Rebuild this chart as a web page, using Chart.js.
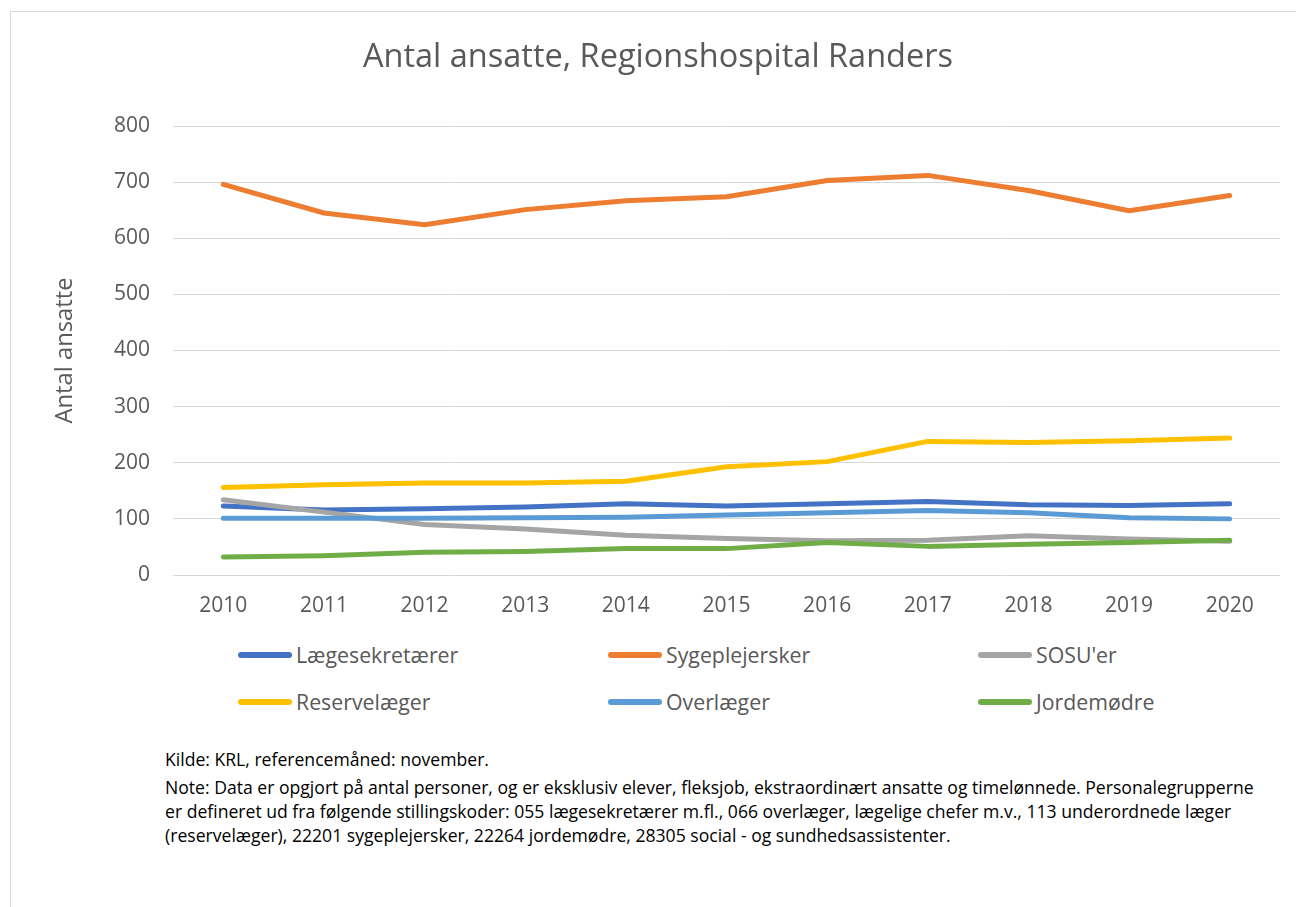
<!DOCTYPE html>
<html>
<head>
<meta charset="utf-8">
<script src="https://cdn.jsdelivr.net/npm/chart.js@4"></script>
<style>
  body { margin: 0; background: #fff; font-family: "Open Sans", sans-serif; }
  #frame { position: absolute; left: 10px; top: 11px; width: 1296px; height: 900px;
           border-left: 1px solid #d9d9d9; border-top: 1px solid #d9d9d9; }
  #wrap { position: absolute; left: 10px; top: 11px; width: 1296px; height: 620px; }
  #legend { position: absolute; left: 0; top: 0; }
  .item { position: absolute; display: flex; align-items: center; font-size: 21.3px; color: #595959; white-space: nowrap; }
  .swatch { width: 54px; height: 6px; border-radius: 3px; margin-right: 4px; }
  #notes { position: absolute; left: 165px; top: 747px; font-size: 17.6px; line-height: 24px; color: #000; white-space: nowrap; }
  #notes .src { margin-bottom: 4px; }
</style>
</head>
<body>
<div id="frame"></div>
<div id="wrap"><canvas id="myChart"></canvas></div>
<div id="legend"></div>
<div id="notes"><div class="src">Kilde: KRL, referencemåned: november.</div>Note: Data er opgjort på antal personer, og er eksklusiv elever, fleksjob, ekstraordinært ansatte og timelønnede. Personalegrupperne<br>er defineret ud fra følgende stillingskoder: 055 lægesekretærer m.fl., 066 overlæger, lægelige chefer m.v., 113 underordnede læger<br>(reservelæger), 22201 sygeplejersker, 22264 jordemødre, 28305 social - og sundhedsassistenter.</div>
<script>
var years = ['2010', '2011', '2012', '2013', '2014', '2015', '2016', '2017', '2018', '2019', '2020'];
var laegesekretaerer = [123, 116, 118, 121, 127, 123, 127, 131, 125, 124, 127];
var sygeplejersker = [696, 645, 624, 651, 667, 674, 703, 712, 685, 649, 676];
var sosu = [134, 112, 90, 82, 71, 65, 61, 62, 70, 64, 60];
var reservelaeger = [156, 161, 164, 164, 167, 193, 202, 238, 236, 239, 244];
var overlaeger = [101, 101, 101, 102, 103, 107, 111, 115, 111, 102, 100];
var jordemoedre = [32, 34.5, 40.5, 42, 47, 47, 58, 51, 55, 58, 62];
var yTicks = [0, 100, 200, 300, 400, 500, 600, 700, 800];

var names = ['Lægesekretærer', 'Sygeplejersker', "SOSU'er", 'Reservelæger', 'Overlæger', 'Jordemødre'];
var values = [laegesekretaerer, sygeplejersker, sosu, reservelaeger, overlaeger, jordemoedre];
var colors = ['#4472C4', '#ED7D31', '#A5A5A5', '#FFC000', '#5B9BD5', '#70AD47'];

var grey = '#595959';

var datasets = names.map(function (n, i) {
    return {
        label: n,
        data: values[i],
        borderColor: colors[i],
        backgroundColor: colors[i],
        borderWidth: 5,
        borderCapStyle: 'round',
        borderJoinStyle: 'round',
        pointRadius: 0,
        tension: 0,
        order: names.length - i
    };
});

var ctx = document.getElementById('myChart').getContext('2d');
var myChart = new Chart(ctx, {
    type: 'line',
    data: { labels: years, datasets: datasets },
    options: {
        responsive: true,
        maintainAspectRatio: false,
        animation: false,
        layout: { padding: { left: 26, right: 26, top: 0, bottom: 0 } },
        plugins: {
            legend: { display: false },
            tooltip: { enabled: false },
            title: {
                display: true,
                text: 'Antal ansatte, Regionshospital Randers',
                color: grey,
                font: { family: 'Open Sans', size: 32.5, weight: 'normal' },
                padding: { top: 27, bottom: 49 }
            }
        },
        scales: {
            x: {
                offset: true,
                grid: { display: false, drawTicks: false },
                border: { display: false },
                ticks: { color: grey, font: { family: 'Open Sans', size: 21 }, padding: 18, maxRotation: 0 },
                afterFit: function (s) { s.height = 56; }
            },
            y: {
                min: 0,
                max: 800,
                afterBuildTicks: function (s) { s.ticks = yTicks.map(function (v) { return { value: v }; }); },
                grid: { color: '#d9d9d9', lineWidth: 1, drawTicks: false },
                border: { display: false },
                ticks: { color: grey, font: { family: 'Open Sans', size: 21 }, padding: 23 },
                title: {
                    display: true,
                    text: 'Antal ansatte',
                    color: grey,
                    font: { family: 'Open Sans', size: 23.8 },
                    padding: { top: 15, bottom: 0 }
                },
                afterFit: function (s) { s.width = 137; }
            }
        }
    }
});

// legend in 3 columns, 2 rows
var legendPos = [[238, 655], [608, 655], [978, 655], [238, 702], [608, 702], [978, 702]];
var legend = document.getElementById('legend');
names.forEach(function (n, i) {
    var d = document.createElement('div');
    d.className = 'item';
    d.style.left = legendPos[i][0] + 'px';
    d.style.top = (legendPos[i][1] - 15) + 'px';
    d.innerHTML = '<span class="swatch" style="background:' + colors[i] + '"></span>' + n;
    legend.appendChild(d);
});
</script>
</body>
</html>
